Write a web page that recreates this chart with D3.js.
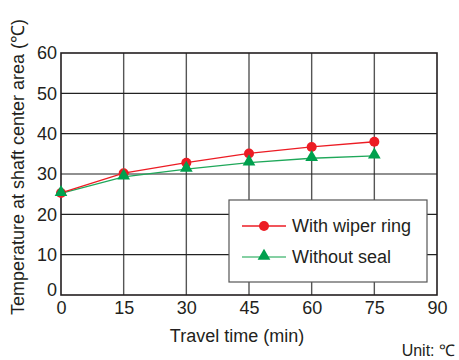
<!DOCTYPE html>
<html>
<head>
<meta charset="utf-8">
<script src="https://cdn.jsdelivr.net/npm/d3@7"></script>
<style>
  body { margin: 0; background: #fff; }
  text { font-family: "Liberation Sans", Arial, sans-serif; fill: #231f20; }
</style>
</head>
<body>
<div id="chart"></div>
<script>
const times = [0, 15, 30, 45, 60, 75];
const withWiper = [25.3, 30.2, 32.8, 35.1, 36.7, 38.0];
const withoutSeal = [25.2, 29.3, 31.2, 32.8, 33.9, 34.5];
const xTicks = [0, 15, 30, 45, 60, 75, 90];
const yTicks = [0, 10, 20, 30, 40, 50, 60];
const seriesNames = ['With wiper ring', 'Without seal'];

const width = 459, height = 360;
const margin = { top: 53, right: 22, bottom: 65, left: 61 };
const w = width - margin.left - margin.right;
const h = height - margin.top - margin.bottom;

const svg = d3.select('#chart').append('svg')
  .attr('width', width)
  .attr('height', height);

const g = svg.append('g')
  .attr('transform', 'translate(' + margin.left + ',' + margin.top + ')');

const x = d3.scaleLinear().domain([0, 90]).range([0, w]);
const y = d3.scaleLinear().domain([0, 60]).range([h, 0]);

/* ----------grid------------*/
g.selectAll('.vgrid').data(xTicks.slice(1, -1)).enter().append('line')
  .attr('x1', d => x(d)).attr('x2', d => x(d))
  .attr('y1', 0).attr('y2', h)
  .attr('stroke', '#555').attr('stroke-width', 1.4);

g.selectAll('.hgrid').data(yTicks.slice(1, -1)).enter().append('line')
  .attr('x1', 0).attr('x2', w)
  .attr('y1', d => y(d)).attr('y2', d => y(d))
  .attr('stroke', '#222').attr('stroke-width', 1.2);

g.append('rect')
  .attr('width', w).attr('height', h)
  .attr('fill', 'none').attr('stroke', '#231f20').attr('stroke-width', 1.6);

/* ----------axes labels------------*/
const xAxis = g.append('g')
  .attr('transform', 'translate(0,' + h + ')')
  .call(d3.axisBottom(x).tickValues(xTicks).tickSize(0).tickPadding(6));
xAxis.select('.domain').remove();
xAxis.selectAll('text').style('font-size', '18px').attr('fill', '#231f20');

const yAxis = g.append('g')
  .call(d3.axisLeft(y).tickValues(yTicks).tickSize(0).tickPadding(4));
yAxis.select('.domain').remove();
yAxis.selectAll('text').style('font-size', '18px').attr('fill', '#231f20');
yAxis.selectAll('.tick').filter(d => d === 0).select('text').attr('dy', '0.05em');

svg.append('text')
  .attr('x', 237).attr('y', 342)
  .attr('text-anchor', 'middle')
  .style('font-size', '18px')
  .text('Travel time (min)');

svg.append('text')
  .attr('transform', 'translate(24,167) rotate(-90)')
  .attr('text-anchor', 'middle')
  .style('font-size', '18px')
  .text('Temperature at shaft center area (\u2103)');

svg.append('text')
  .attr('x', 455).attr('y', 356)
  .attr('text-anchor', 'end')
  .style('font-size', '16px')
  .text('Unit: \u2103');

/* ----------lines------------*/
const line = d3.line().x((d, i) => x(times[i])).y(d => y(d));

g.append('path').datum(withoutSeal)
  .attr('d', line).attr('fill', 'none')
  .attr('stroke', '#1fa85a').attr('stroke-width', 1.3);
g.append('path').datum(withWiper)
  .attr('d', line).attr('fill', 'none')
  .attr('stroke', '#ec1c24').attr('stroke-width', 1.3);

const tri = d3.symbol().type(d3.symbolTriangle).size(70);

g.selectAll('.pw').data(withWiper).enter().append('circle')
  .attr('cx', (d, i) => x(times[i])).attr('cy', d => y(d))
  .attr('r', 5).attr('fill', '#ec1c24');

g.selectAll('.ps').data(withoutSeal).enter().append('path')
  .attr('d', tri)
  .attr('transform', (d, i) => 'translate(' + x(times[i]) + ',' + (y(d) - 1) + ')')
  .attr('fill', '#00a04e');

/* ----------legend------------*/
const legend = svg.append('g').attr('transform', 'translate(229,200)');
legend.append('rect')
  .attr('width', 198).attr('height', 82)
  .attr('fill', '#fff').attr('stroke', '#555').attr('stroke-width', 1.2);

const colors = ['#ec1c24', '#1fa85a'];
seriesNames.forEach((name, i) => {
  const row = legend.append('g').attr('transform', 'translate(0,' + (26 + i * 31) + ')');
  row.append('line').attr('x1', 13).attr('x2', 57)
    .attr('stroke', i === 0 ? colors[0] : '#5cc085').attr('stroke-width', 1.3);
  if (i === 0) {
    row.append('circle').attr('cx', 35).attr('r', 5).attr('fill', '#ec1c24');
  } else {
    row.append('path').attr('d', tri).attr('transform', 'translate(35,-1)').attr('fill', '#00a04e');
  }
  row.append('text').attr('x', 63).attr('dy', '0.35em')
    .style('font-size', '18px').text(name);
});
</script>
</body>
</html>
